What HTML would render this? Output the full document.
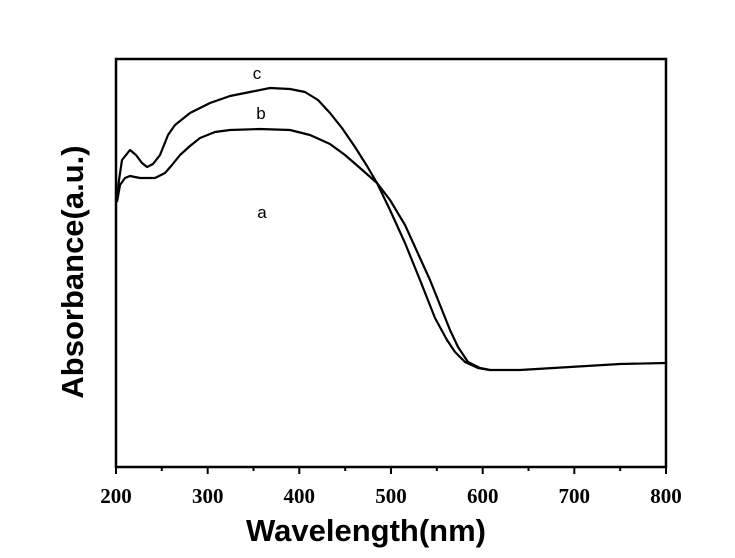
<!DOCTYPE html><html><head><style>body{margin:0;background:#fff}svg{display:block}</style></head><body>
<svg width="735" height="558" xmlns="http://www.w3.org/2000/svg">
<rect x="116" y="59" width="550" height="408" fill="none" stroke="#000" stroke-width="2.5"/>
<g stroke="#000" stroke-width="2">
<line x1="116" y1="467" x2="116" y2="474"/><line x1="207.7" y1="467" x2="207.7" y2="474"/><line x1="299.3" y1="467" x2="299.3" y2="474"/><line x1="391" y1="467" x2="391" y2="474"/><line x1="482.7" y1="467" x2="482.7" y2="474"/><line x1="574.3" y1="467" x2="574.3" y2="474"/><line x1="666" y1="467" x2="666" y2="474"/>
<line x1="161.8" y1="467" x2="161.8" y2="471"/><line x1="253.5" y1="467" x2="253.5" y2="471"/><line x1="345.2" y1="467" x2="345.2" y2="471"/><line x1="436.8" y1="467" x2="436.8" y2="471"/><line x1="528.5" y1="467" x2="528.5" y2="471"/><line x1="620.2" y1="467" x2="620.2" y2="471"/>
</g>
<g font-family="Liberation Serif" font-weight="bold" font-size="21" text-anchor="middle">
<text x="116" y="503">200</text><text x="207.7" y="503">300</text><text x="299.3" y="503">400</text><text x="391" y="503">500</text><text x="482.7" y="503">600</text><text x="574.3" y="503">700</text><text x="666" y="503">800</text>
</g>
<text x="366" y="541" font-family="Liberation Sans" font-weight="bold" font-size="31" text-anchor="middle">Wavelength(nm)</text>
<text transform="translate(83,272) rotate(-90)" font-family="Liberation Sans" font-weight="bold" font-size="31" text-anchor="middle">Absorbance(a.u.)</text>
<g fill="none" stroke="#000" stroke-width="2.2" stroke-linejoin="round">
<path d="M117,200 L119,180 L122,160 L126,155 L130,150 L136,155 L142,163 L147,167 L153,164 L160,155 L168,135 L175,125 L190,113 L210,103 L230,96 L250,92 L270,88 L290,89 L305,92 L318,100 L330,113 L342,128 L355,147 L367,166 L377,183 L390,210 L405,243 L420,280 L435,318 L447,340 L455,352 L465,362 L478,368 L490,370 L520,370 L570,367 L620,364 L666,363"/>
<path d="M117,202 L120,185 L125,178 L130,176 L140,178 L155,178 L165,173 L172,165 L180,155 L190,146 L200,138 L215,132 L230,130 L260,129 L290,130 L310,135 L330,144 L345,155 L360,168 L377,183 L390,200 L405,225 L420,258 L430,280 L440,305 L450,330 L458,347 L468,362 L480,368 L490,370"/>
</g>
<g font-family="Liberation Sans" font-size="17" text-anchor="middle">
<text x="257" y="79">c</text><text x="261" y="119">b</text><text x="262" y="218">a</text>
</g>
</svg></body></html>
